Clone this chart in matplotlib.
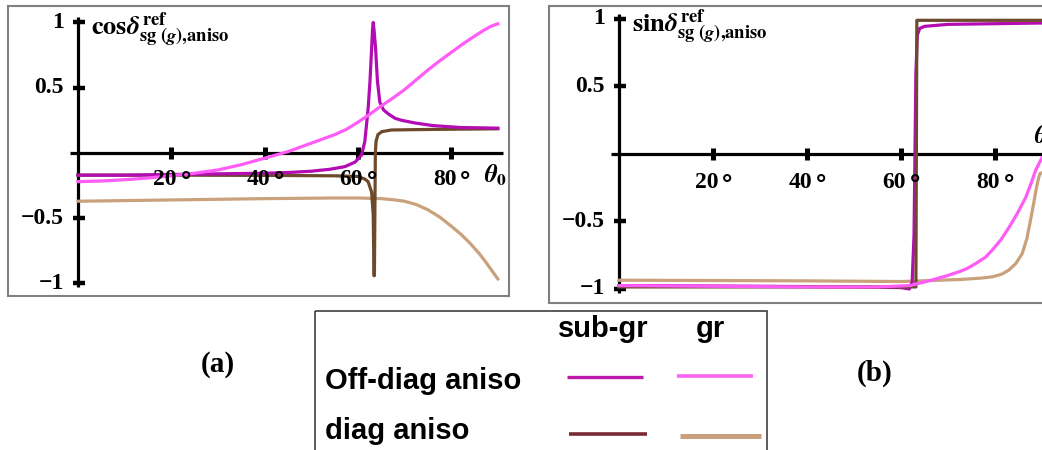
import matplotlib
matplotlib.use('Agg')
import matplotlib.pyplot as plt
from matplotlib.patches import Rectangle

plt.rcParams['font.family'] = 'Liberation Serif'
plt.rcParams['font.weight'] = 'bold'
plt.rcParams['mathtext.fontset'] = 'stix'

# ---- (a) cos delta ----
th_cos_off_sub = [0, 10, 20, 30, 40, 45, 50, 54, 57.2, 59.4, 60.8, 61.5, 62.2, 62.6, 62.95, 63.15, 63.3,
                  63.5, 63.8, 64.2, 64.7, 65.5, 66.5, 68, 69.4, 72.2, 76, 82, 90]
cos_off_sub = [-0.17, -0.17, -0.165, -0.16, -0.155, -0.15, -0.14, -0.125, -0.105, -0.07, -0.015, 0.09, 0.34,
               0.55, 0.80, 0.95, 1.0, 0.93, 0.80, 0.55, 0.39, 0.33, 0.30, 0.265, 0.25, 0.23, 0.21, 0.195, 0.19]

th_cos_off_gr = [0, 5, 10, 15, 20, 25, 30, 35, 40, 45, 50, 55, 57.5, 60, 62.5, 65, 67.5, 70, 72.5, 75,
                 77.5, 80, 82.5, 85, 87, 88.5, 90]
cos_off_gr = [-0.22, -0.215, -0.205, -0.192, -0.175, -0.155, -0.13, -0.09, -0.04, 0.01, 0.075, 0.14, 0.18,
              0.235, 0.295, 0.36, 0.42, 0.485, 0.56, 0.635, 0.705, 0.77, 0.835, 0.895, 0.94, 0.97, 0.99]

th_cos_diag_sub = [0, 20, 40, 55, 60, 61.5, 62.2, 62.95, 63.3, 63.45, 63.55, 63.65, 63.75, 63.9, 64.3,
                   65.1, 67.2, 75, 90]
cos_diag_sub = [-0.17, -0.17, -0.172, -0.175, -0.18, -0.2, -0.22, -0.30, -0.48, -0.94, -0.94, -0.45,
                0.0, 0.09, 0.14, 0.163, 0.176, 0.18, 0.185]

th_cos_diag_gr = [0, 20, 40, 55, 60, 65, 67.5, 70, 72.5, 75, 77.5, 80, 82, 84, 86, 87.5, 88.5, 89.3, 90]
cos_diag_gr = [-0.37, -0.36, -0.35, -0.345, -0.345, -0.35, -0.358, -0.37, -0.395, -0.435, -0.49, -0.56,
               -0.62, -0.69, -0.77, -0.84, -0.89, -0.93, -0.965]

# ---- (b) sin delta ----
th_sin_off_sub = [0, 30, 50, 60, 61.8, 62.4, 62.8, 63.0, 63.2, 63.5, 64.0, 65, 70, 80, 90]
sin_off_sub = [-0.975, -0.98, -0.985, -0.99, -1.0, -0.95, -0.6, 0.0, 0.6, 0.88, 0.93, 0.945, 0.96, 0.965, 0.97]

th_sin_off_gr = [0, 20, 40, 55, 62, 66.5, 70, 72.6, 74.3, 76, 78, 79.5, 81.3, 83, 84.8, 86.6, 87.7,
                 88.7, 90]
sin_off_gr = [-0.975, -0.98, -0.985, -0.985, -0.975, -0.935, -0.9, -0.87, -0.845, -0.81, -0.765, -0.71,
              -0.635, -0.545, -0.44, -0.32, -0.22, -0.12, -0.03]

th_sin_diag_sub = [0, 40, 63.2, 63.3, 63.4, 90]
sin_diag_sub = [-0.985, -0.985, -0.985, 0.0, 0.99, 0.99]

th_sin_diag_gr = [0, 40, 60, 72.6, 77, 79.5, 81.5, 83, 84.5, 85.8, 86.8, 87.6, 88.3, 88.8, 89.3, 89.6, 90]
sin_diag_gr = [-0.935, -0.94, -0.945, -0.93, -0.92, -0.91, -0.89, -0.86, -0.81, -0.74, -0.63, -0.49,
               -0.36, -0.26, -0.18, -0.145, -0.14]

x_ticks = [20, 40, 60, 80]
y_ticks = [-1, -0.5, 0.5, 1]
y_tick_labels = ['\u22121', '\u22120.5', '0.5', '1']

# plot colours
c_off_sub = '#B20CB2'
c_off_gr = '#FF5CF7'
c_diag_sub = '#6E4A2C'
c_diag_gr = '#C9A17C'
# legend swatches
leg_off_sub = '#BD1AA9'
leg_off_gr = '#FF62EE'
leg_diag_sub = '#7A2B37'
leg_diag_gr = '#C9A07E'

fig = plt.figure(figsize=(10.42, 4.5), dpi=100)


def draw_panel(ax, xlabel_pos, ylab, tick_dy):
    for s in ax.spines.values():
        s.set_color('#808080')
        s.set_linewidth(1.5)
    ax.set_xticks([])
    ax.set_yticks([])
    # axes through the origin
    ax.plot([-1.7, 91.2], [0, 0], color='black', lw=2.3, zorder=2, solid_capstyle='butt')
    ax.plot([0, 0], [-1.03, 1.04], color='black', lw=2.3, zorder=2, solid_capstyle='butt')
    ax.vlines(x_ticks, -0.045, 0.045, color='black', lw=3.6, zorder=2)
    ax.hlines(y_ticks, -1.0, 1.5, color='black', lw=3.2, zorder=2)
    for t in x_ticks:
        ax.text(t - 1.4, tick_dy, f'{t}', ha='center', va='center', fontsize=17,
                fontweight='bold', zorder=6)
        # degree ring, a little larger than the serif one
        ax.text(t + 3.1, tick_dy - 0.025, '\u00b0', ha='center', va='center', fontsize=18,
                family='DejaVu Sans', fontweight='bold', zorder=6)
    for v, lab in zip(y_ticks, y_tick_labels):
        ax.text(-3.0, v, lab, ha='right', va='center', fontsize=17, fontweight='bold', zorder=6)
    ax.text(xlabel_pos[0], xlabel_pos[1], r'$\theta_0$', ha='left', va='center', fontsize=18, zorder=6)
    ax.text(2.8, 0.895, ylab, ha='left', va='baseline', fontsize=19, zorder=6)


# panel (a)
ax1 = fig.add_axes([8 / 1042, 1 - 296 / 450, 501 / 1042, 290 / 450])
ax1.set_xlim(-15.0, 92.4)
ax1.set_ylim(-1.096, 1.126)
ax1.plot(th_cos_diag_gr, cos_diag_gr, color=c_diag_gr, lw=2.3, zorder=3)
ax1.plot(th_cos_diag_sub, cos_diag_sub, color=c_diag_sub, lw=2.3, zorder=3)
ax1.plot(th_cos_off_sub, cos_off_sub, color=c_off_sub, lw=2.3, zorder=3)
ax1.plot(th_cos_off_gr, cos_off_gr, color=c_off_gr, lw=2.3, zorder=3)
draw_panel(ax1, (87.0, -0.17),
           r'$\mathbf{cos}\delta^{\mathbf{ref}}_{\mathbf{sg\ (}\mathit{g}\mathbf{)}{,}\mathbf{aniso}}$', -0.207)

# panel (b)
ax2 = fig.add_axes([549 / 1042, 1 - 303 / 450, 521 / 1042, 297 / 450])
ax2.set_xlim(-14.9, 96.0)
ax2.set_ylim(-1.104, 1.096)
ax2.plot(th_sin_diag_gr, sin_diag_gr, color=c_diag_gr, lw=2.3, zorder=3)
ax2.plot(th_sin_off_sub, sin_off_sub, color=c_off_sub, lw=2.3, zorder=3)
ax2.plot(th_sin_diag_sub, sin_diag_sub, color=c_diag_sub, lw=2.3, zorder=3)
ax2.plot(th_sin_off_gr, sin_off_gr, color=c_off_gr, lw=2.3, zorder=3)
draw_panel(ax2, (88.4, 0.13),
           r'$\mathbf{sin}\delta^{\mathbf{ref}}_{\mathbf{sg\ (}\mathit{g}\mathbf{)}{,}\mathbf{aniso}}$', -0.215)

# legend box and panel letters, in pixel coordinates
lg = fig.add_axes([0, 0, 1, 1], zorder=-1)
lg.set_xlim(0, 1042)
lg.set_ylim(450, 0)
lg.axis('off')
lg.add_patch(Rectangle((315, 311), 452, 200, fill=False, edgecolor='#404040', lw=1.2))
sans = dict(family='Liberation Sans', fontweight='bold', fontsize=21)
lg.text(603, 329, 'sub-gr', ha='center', va='center', **sans)
lg.text(710, 329, 'gr', ha='center', va='center', **sans)
lg.text(325, 381, 'Off-diag aniso', ha='left', va='center', **sans)
lg.text(325, 431, 'diag aniso', ha='left', va='center', **sans)
lg.plot([567, 643], [377, 377], color=leg_off_sub, lw=2.4, solid_capstyle='butt')
lg.plot([677, 753], [375.5, 375.5], color=leg_off_gr, lw=2.6, solid_capstyle='butt')
lg.plot([569, 647], [434, 434], color=leg_diag_sub, lw=2.6, solid_capstyle='butt')
lg.plot([680, 761], [436, 436], color=leg_diag_gr, lw=3.6, solid_capstyle='butt')
lg.text(218, 365, '(a)', ha='center', va='center', fontsize=21, fontweight='bold')
lg.text(875, 373, '(b)', ha='center', va='center', fontsize=21, fontweight='bold')

fig.savefig('out.png', dpi=100)
